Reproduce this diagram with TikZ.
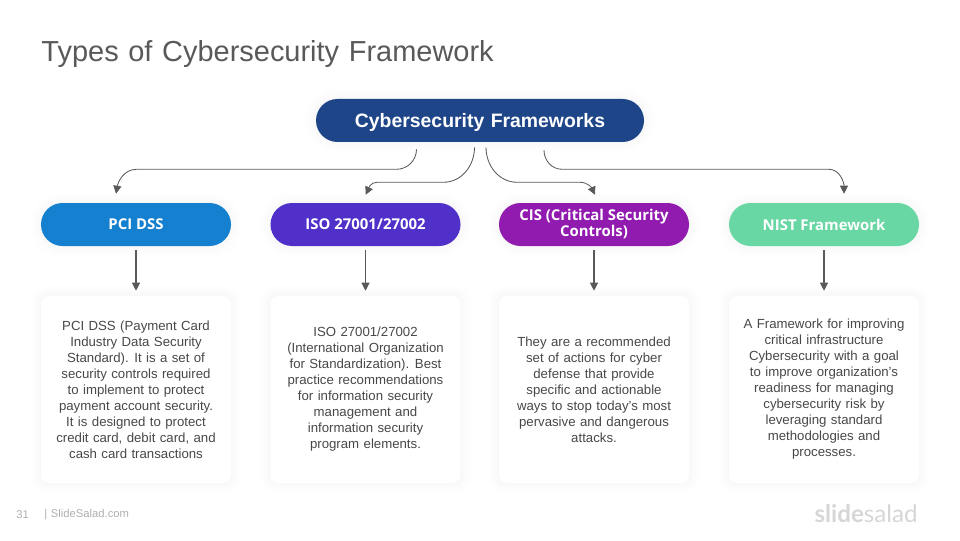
\documentclass[tikz,border=0pt]{standalone}
\usepackage{fontspec}
\setmainfont[WordSpace=1.2]{Liberation Sans}
\newfontfamily\pillfont{Open Sans}
\newfontfamily\logofont{Lato}
\definecolor{fwnavy}{RGB}{31,69,137}
\definecolor{fwblue}{RGB}{21,128,207}
\definecolor{fwindigo}{RGB}{81,47,201}
\definecolor{fwpurple}{RGB}{145,26,175}
\definecolor{fwgreen}{RGB}{105,215,164}
\definecolor{fwgray}{RGB}{89,89,89}
\definecolor{fwtext}{RGB}{72,72,72}
\definecolor{fwfoot}{RGB}{175,175,175}
\definecolor{fwlogo}{RGB}{214,214,214}
\usetikzlibrary{arrows.meta,calc}

\begin{document}
\begin{tikzpicture}[
        softshadow/.style={preaction={draw=black, line width=16pt, opacity=0.005, yshift=-2pt},
                           preaction={draw=black, line width=11pt, opacity=0.006, yshift=-2pt},
                           preaction={draw=black, line width=6pt, opacity=0.006, yshift=-2pt},
                           preaction={draw=black, line width=2pt, opacity=0.006, yshift=-2pt}},
        pillbox/.style={rectangle, rounded corners=0.5375cm, softshadow, text=white,
                        minimum width=4.75cm, minimum height=1.075cm, align=center, inner sep=0pt,
                        font=\pillfont\fontsize{10.6}{11.4}\selectfont\bfseries},
        cardbox/.style={rectangle, rounded corners=0.2cm, softshadow, fill=white, text=fwtext,
                        minimum width=4.75cm, minimum height=4.675cm, align=center, inner sep=0pt,
                        font=\fontsize{9.4}{11.38}\selectfont},
        arr/.style={-{Triangle[length=0.2cm,width=0.2cm]}, line width=0.8pt, fwgray},
        curvearr/.style={-{Triangle[length=0.2cm,width=0.2cm]}, line width=0.6pt, fwgray}
      ]
        \useasboundingbox (0,0) rectangle (24,13.5);

        \node[font=\fontsize{20.6}{24}\selectfont, fwgray, anchor=west, inner sep=0pt] (title) at (1.03,12.16) {Types of Cybersecurity Framework};

        \node[pillbox, fill=fwnavy, minimum width=8.2cm, text depth=0pt, font=\fontsize{13.8}{17}\selectfont\bfseries] (root) at (12,10.4875) {Cybersecurity Frameworks};

        \node[pillbox, fill=fwblue]   (pci)  at (3.4,7.8875)    {PCI DSS};
        \node[pillbox, fill=fwindigo] (iso)  at (9.1375,7.8875) {ISO 27001/27002};
        \node[pillbox, fill=fwpurple] (cis)  at (14.85,7.8875)  {\raisebox{-1pt}{CIS (Critical Security}\\\raisebox{-1pt}{Controls)}};
        \node[pillbox, fill=fwgreen]  (nist) at (20.6,7.8875)   {NIST Framework};

        \node[cardbox] (pcitext) at (3.4,3.7625) {PCI DSS (Payment Card\\Industry Data Security\\Standard). It is a set of\\security controls required\\to implement to protect\\payment account security.\\It is designed to protect\\credit card, debit card, and\\cash card transactions};
        \node[cardbox] (isotext) at (9.1375,3.7625) {ISO 27001/27002\\(International Organization\\for Standardization). Best\\practice recommendations\\for information security\\management and\\information security\\program elements.};
        \node[cardbox] (cistext) at (14.85,3.7625) {They are a recommended\\set of actions for cyber\\defense that provide\\specific and actionable\\ways to stop today’s most\\pervasive and dangerous\\attacks.};
        \node[cardbox] (nisttext) at (20.6,3.7625) {A Framework for improving\\critical infrastructure\\Cybersecurity with a goal\\to improve organization’s\\readiness for managing\\cybersecurity risk by\\leveraging standard\\methodologies and\\processes.};

        \coordinate (s1) at ($(root.south)+(-1.5875,-0.175)$);
        \coordinate (s2) at ($(root.south)+(-0.1375,-0.125)$);
        \coordinate (s3) at ($(root.south)+(0.15,-0.125)$);
        \coordinate (s4) at ($(root.south)+(1.6,-0.2)$);
        \coordinate (t1) at ($(pci.north)+(-0.5,0.225)$);
        \coordinate (t2) at ($(iso.north)+(0.005,0.2)$);
        \coordinate (t3) at ($(cis.north)+(0.025,0.2)$);
        \coordinate (t4) at ($(nist.north)+(0.5,0.225)$);

        \draw[curvearr] (s1) to[out=-90,in=0] ++(-0.5,-0.5) -- ++(-6.5,0) to[out=180,in=80] (t1);
        \draw[curvearr] (s2) to[out=-90,in=0] ++(-0.78,-0.875) -- ++(-1.66,0) to[out=180,in=65] (t2);
        \draw[curvearr] (s3) to[out=-90,in=180] ++(0.78,-0.875) -- ++(1.57,0) to[out=0,in=115] (t3);
        \draw[curvearr] (s4) to[out=-90,in=180] ++(0.45,-0.475) -- ++(6.67,0) to[out=0,in=90] (t4);

        \draw[arr, shorten <=0.1cm, shorten >=0.125cm] (pci.south)  -- (pcitext.north);
        \draw[arr, shorten <=0.1cm, shorten >=0.125cm] (iso.south)  -- (isotext.north);
        \draw[arr, shorten <=0.1cm, shorten >=0.125cm] (cis.south)  -- (cistext.north);
        \draw[arr, shorten <=0.1cm, shorten >=0.125cm] (nist.south) -- (nisttext.north);

        \node[font=\fontsize{8}{10}\selectfont, fwfoot, anchor=west, inner sep=0pt] (pagenum) at (0.4,0.64) {31};
        \node[font=\fontsize{8}{10}\selectfont, fwfoot, anchor=west, inner sep=0pt] (site)    at (1.1,0.64) {| SlideSalad.com};
        \node[font=\logofont\fontsize{17.2}{20}\selectfont\bfseries, fwlogo, anchor=east, inner sep=0pt] (logo) at (22.95,0.65) {slide{\mdseries salad}};
      \end{tikzpicture}
\end{document}
